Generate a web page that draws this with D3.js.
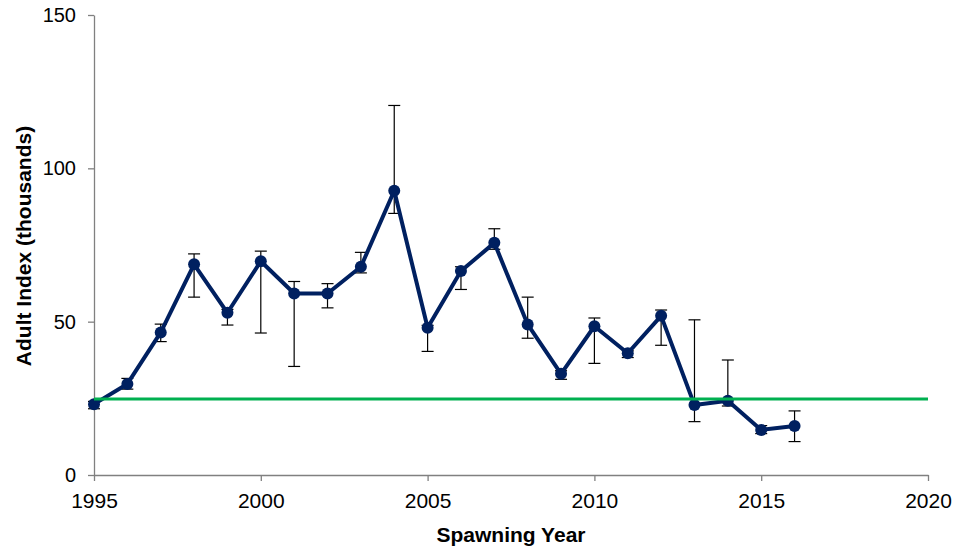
<!DOCTYPE html>
<html><head><meta charset="utf-8">
<script src="https://cdn.jsdelivr.net/npm/d3@7/dist/d3.min.js"></script>
<style>body{margin:0;background:#fff}svg{display:block}text{font-family:"Liberation Sans",Arial,sans-serif}</style>
</head><body>
<svg id="c" width="955" height="550"></svg>
<script>
const years = [1995,1996,1997,1998,1999,2000,2001,2002,2003,2004,2005,2006,2007,2008,2009,2010,2011,2012,2013,2014,2015,2016];
const values = [23.1,29.7,46.5,68.7,52.9,69.7,59.2,59.2,67.9,92.7,48.0,66.5,75.7,49.1,33.0,48.5,39.7,51.9,22.8,24.2,14.7,16.0];
const upper = [24.0,31.5,49.2,72.1,54.0,73.0,63.1,62.4,72.6,120.5,48.8,67.9,80.3,58.0,34.0,51.2,40.5,53.8,50.6,37.5,16.1,20.9];
const lower = [21.6,28.0,43.5,58.0,48.9,46.3,35.4,54.5,65.9,85.3,40.3,60.5,73.6,44.6,31.2,36.4,38.3,42.3,17.4,22.5,13.5,10.9];
const target = 24.8;
const xTicks = [1995,2000,2005,2010,2015,2020];
const yTicks = [0,50,100,150];

const svg = d3.select("#c");
const x = d3.scaleLinear().domain([1995,2020]).range([94,928]);
const y = d3.scaleLinear().domain([0,150]).range([475,15]);

const xAxis = svg.append("g").attr("transform","translate(0,475)")
  .call(d3.axisBottom(x).tickValues(xTicks).tickFormat(d3.format("d")).tickSize(6).tickSizeOuter(0));
const yAxis = svg.append("g").attr("transform","translate(94,0)")
  .call(d3.axisLeft(y).tickValues(yTicks).tickSize(6).tickSizeOuter(0));
[xAxis,yAxis].forEach(g=>{
  g.selectAll("path,line").attr("stroke","#808080").attr("stroke-width",1.3);
  g.selectAll("text").attr("fill","#000").attr("font-family","Liberation Sans, Arial, sans-serif");
});
xAxis.selectAll("text").attr("font-size",21).attr("dy","24px");
yAxis.selectAll("text").attr("font-size",20).attr("dx","-9px");

svg.append("text").attr("x",511).attr("y",542).attr("text-anchor","middle")
  .attr("font-size",21).attr("font-weight","bold").text("Spawning Year");
svg.append("text").attr("transform","translate(31,246) rotate(-90)").attr("text-anchor","middle")
  .attr("font-size",21).attr("font-weight","bold").text("Adult Index (thousands)");

// error bars
const eb = svg.append("g").attr("stroke","#000").attr("stroke-width",1.2);
years.forEach((yr,i)=>{
  eb.append("line").attr("x1",x(yr)).attr("x2",x(yr)).attr("y1",y(upper[i])).attr("y2",y(lower[i]));
  [upper[i],lower[i]].forEach(v=>eb.append("line").attr("x1",x(yr)-6).attr("x2",x(yr)+6).attr("y1",y(v)).attr("y2",y(v)));
});

// line
const line = d3.line().x((d,i)=>x(years[i])).y(d=>y(d));
svg.append("path").datum(values).attr("d",line).attr("fill","none")
  .attr("stroke","#002060").attr("stroke-width",4).attr("stroke-linejoin","round");
svg.append("g").selectAll("circle").data(values).join("circle")
  .attr("cx",(d,i)=>x(years[i])).attr("cy",d=>y(d)).attr("r",6).attr("fill","#002060");

// target line (drawn on top)
svg.append("line").attr("x1",x(1995)).attr("x2",x(2020)).attr("y1",y(target)).attr("y2",y(target))
  .attr("stroke","#00b050").attr("stroke-width",3);
</script>
</body></html>
